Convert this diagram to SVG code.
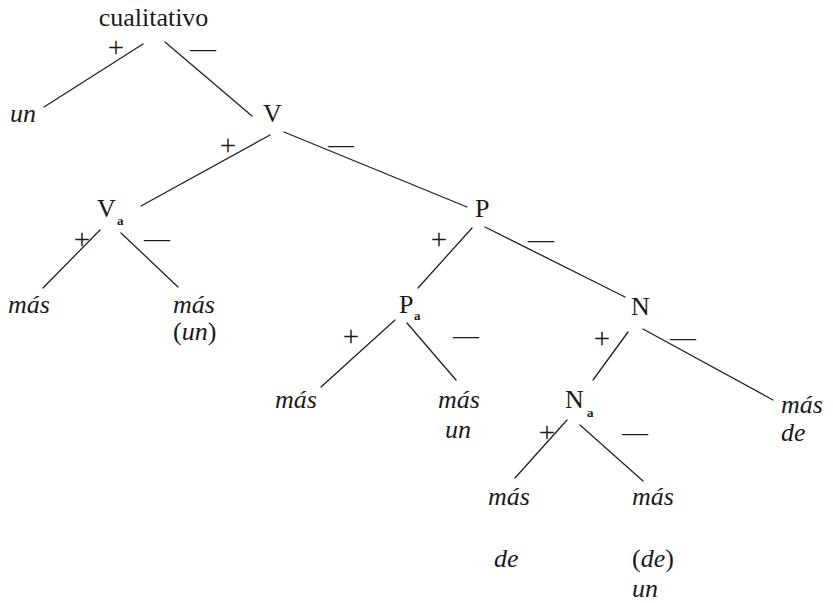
<svg xmlns="http://www.w3.org/2000/svg" width="833" height="603" viewBox="0 0 833 603">
<style>
  text { font-family: 'Liberation Serif', 'DejaVu Serif', 'Times New Roman', serif; font-size: 26px; fill: #1a1a1a; }
  .it { font-style: italic; }
  .up { font-style: normal; }
  .sub { font-size: 13px; font-weight: bold; }
  .sign { text-anchor: middle; }
  .plus { text-anchor: middle; font-size: 29px; }
  .edges line { stroke: #222; stroke-width: 1.3; stroke-linecap: round; }
</style>
<rect width="833" height="603" fill="#ffffff"/>
<g class="edges" id="connectors">
  <line x1="143" y1="44" x2="44" y2="107"/>
  <line x1="165" y1="42" x2="252" y2="116"/>
  <line x1="270" y1="135" x2="141" y2="206"/>
  <line x1="284" y1="132" x2="467" y2="207"/>
  <line x1="100" y1="230" x2="43" y2="288"/>
  <line x1="121" y1="233" x2="178" y2="287"/>
  <line x1="472" y1="228" x2="418" y2="288"/>
  <line x1="485" y1="227" x2="625" y2="297"/>
  <line x1="395" y1="320" x2="321" y2="387"/>
  <line x1="407" y1="323" x2="456" y2="380"/>
  <line x1="628" y1="332" x2="593" y2="380"/>
  <line x1="643" y1="329" x2="773" y2="400"/>
  <line x1="567" y1="420" x2="515" y2="478"/>
  <line x1="580" y1="425" x2="643" y2="481"/>
</g>
<g id="edge-labels">
  <text class="plus" x="116" y="57">+</text>
  <text class="sign" x="203" y="57">—</text>
  <text class="plus" x="228" y="155">+</text>
  <text class="sign" x="341" y="153">—</text>
  <text class="plus" x="82" y="249">+</text>
  <text class="sign" x="157" y="247">—</text>
  <text class="plus" x="439" y="249">+</text>
  <text class="sign" x="541" y="248">—</text>
  <text class="plus" x="351" y="346">+</text>
  <text class="sign" x="466" y="344">—</text>
  <text class="plus" x="602" y="348">+</text>
  <text class="sign" x="683" y="346">—</text>
  <text class="plus" x="547" y="442">+</text>
  <text class="sign" x="635" y="441">—</text>
</g>
<g id="node-cualitativo"><text x="153.5" y="26" text-anchor="middle">cualitativo</text></g>
<g id="node-un1"><text class="it" x="10" y="122">un</text></g>
<g id="node-V"><text x="263" y="122">V</text></g>
<g id="node-Va"><text x="97" y="217">V</text><text class="sub" x="117" y="225">a</text></g>
<g id="node-mas1"><text class="it" x="8" y="313">más</text></g>
<g id="node-mas-un"><text class="it" x="173" y="313">más</text><text x="173" y="340"><tspan class="up">(</tspan><tspan class="it">un</tspan><tspan class="up">)</tspan></text></g>
<g id="node-P"><text x="475" y="217">P</text></g>
<g id="node-Pa"><text x="399" y="313">P</text><text class="sub" x="414" y="320">a</text></g>
<g id="node-mas2"><text class="it" x="275" y="408">más</text></g>
<g id="node-mas-un2"><text class="it" x="438" y="408">más</text><text class="it" x="445" y="438">un</text></g>
<g id="node-N"><text x="631" y="315">N</text></g>
<g id="node-Na"><text x="565" y="408">N</text><text class="sub" x="587" y="417">a</text></g>
<g id="node-mas-de"><text class="it" x="781" y="413">más</text><text class="it" x="781" y="441">de</text></g>
<g id="node-mas-de2"><text class="it" x="488" y="505">más</text><text class="it" x="494" y="567">de</text></g>
<g id="node-mas-de-un"><text class="it" x="632" y="505">más</text><text x="632" y="567"><tspan class="up">(</tspan><tspan class="it">de</tspan><tspan class="up">)</tspan></text><text class="it" x="632" y="597">un</text></g>
</svg>
